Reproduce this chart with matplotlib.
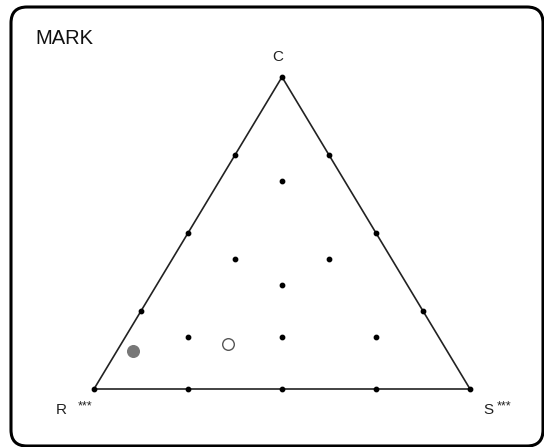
import matplotlib.pyplot as plt
from matplotlib.patches import FancyBboxPatch, Polygon

# ternary compositions (r, s, c) for each marker
grid_r = [1, 0, 0, 0.75, 0.5, 0.25, 0.75, 0.5, 0.25, 0.0, 0.0, 0.0,
          1 / 6, 5 / 12, 1 / 6, 1 / 3, 2 / 3, 5 / 12, 1 / 6]
grid_s = [0, 1, 0, 0.25, 0.5, 0.75, 0.0, 0.0, 0.0, 0.75, 0.5, 0.25,
          1 / 6, 1 / 6, 5 / 12, 1 / 3, 1 / 6, 5 / 12, 2 / 3]
grid_c = [0, 0, 1, 0.0, 0.0, 0.0, 0.25, 0.5, 0.75, 0.25, 0.5, 0.75,
          2 / 3, 5 / 12, 5 / 12, 1 / 3, 1 / 6, 1 / 6, 1 / 6]

filled_rsc = (0.835, 0.043, 0.122)
open_rsc = (0.572, 0.284, 0.144)

corner_labels = ["R", "S", "C"]
title = "MARK"

# triangle corners in pixel space
R_XY = (94, 389)
S_XY = (470, 389)
C_XY = (282, 77)


def to_xy(r, s, c):
    """Convert barycentric (r, s, c) to pixel coordinates."""
    x = r * R_XY[0] + s * S_XY[0] + c * C_XY[0]
    y = r * R_XY[1] + s * S_XY[1] + c * C_XY[1]
    return x, y


fig = plt.figure(figsize=(5.44, 4.47), dpi=100)
ax = fig.add_axes([0, 0, 1, 1])
ax.set_xlim(0, 544)
ax.set_ylim(447, 0)
ax.axis("off")

# rounded frame
frame = FancyBboxPatch((11, 7), 532, 439, boxstyle="round,pad=0,rounding_size=16",
                       facecolor="white", edgecolor="black", linewidth=2.2)
ax.add_patch(frame)

tri = Polygon([R_XY, S_XY, C_XY], closed=True, fill=False,
              edgecolor="#222222", linewidth=1.2)
ax.add_patch(tri)

pts = [to_xy(r, s, c) for r, s, c in zip(grid_r, grid_s, grid_c)]
ax.scatter([p[0] for p in pts], [p[1] for p in pts], s=10, color="black", zorder=3)

fx, fy = to_xy(*filled_rsc)
ax.scatter([fx], [fy], s=70, color="#777777", edgecolor="#777777", zorder=3)
ox, oy = to_xy(*open_rsc)
ax.scatter([ox], [oy], s=70, facecolor="white", edgecolor="#555555",
           linewidth=1.0, zorder=3)

ax.text(35, 39, title, fontsize=14.5, family="Liberation Sans",
        ha="left", va="center", color="#111111")

ax.text(C_XY[0] - 4, 57, corner_labels[2], fontsize=11, family="Liberation Sans",
        ha="center", va="center", color="#222222")
ax.text(61, 410, corner_labels[0], fontsize=11, family="Liberation Sans",
        ha="center", va="center", color="#222222")
ax.text(488, 410, corner_labels[1], fontsize=11, family="Liberation Sans",
        ha="center", va="center", color="#222222")
ax.text(78, 406, "***", fontsize=9, family="Liberation Sans",
        ha="left", va="center", color="#222222")
ax.text(497, 406, "***", fontsize=9, family="Liberation Sans",
        ha="left", va="center", color="#222222")

fig.savefig("out.png", dpi=100)
